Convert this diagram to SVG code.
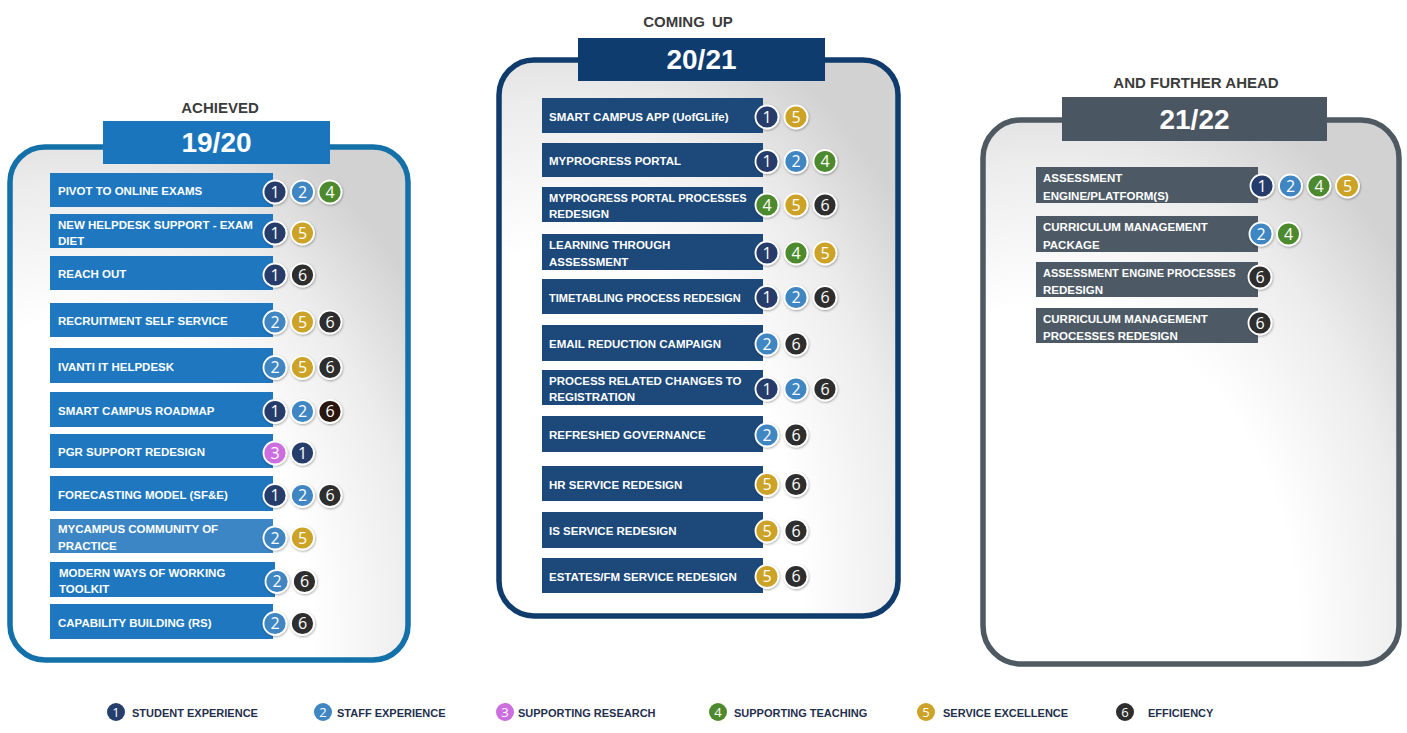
<svg xmlns="http://www.w3.org/2000/svg" width="1407" height="733" viewBox="0 0 1407 733">
  <defs>
    <radialGradient id="panelFill" cx="0.15" cy="0.95" r="1.1">
      <stop offset="0" stop-color="#ffffff"/>
      <stop offset="0.55" stop-color="#ffffff"/>
      <stop offset="0.8" stop-color="#ececec"/>
      <stop offset="1" stop-color="#d2d2d2"/>
    </radialGradient>
    <filter id="shadow" x="-30%" y="-30%" width="160%" height="160%">
      <feDropShadow dx="0.6" dy="1" stdDeviation="1" flood-color="#000" flood-opacity="0.35"/>
    </filter>
    <style>
      .panel { fill: url(#panelFill); stroke-width: 5.5; }
      .p1 { stroke: #1470a8; }
      .p2 { stroke: #0f3c6d; }
      .p3 { stroke: #4e5961; }
      .cap { font-family: "Liberation Sans", Arial, sans-serif; font-weight: bold; font-size: 15px; fill: #3c3c3c; text-anchor: middle; }
      .yr { font-family: "Liberation Sans", Arial, sans-serif; font-weight: bold; font-size: 28px; fill: #ffffff; text-anchor: middle; }
      .lbl { font-family: "Liberation Sans", Arial, sans-serif; font-weight: bold; font-size: 11.5px; fill: #ffffff; }
      .tight { font-size: 11px; }
      .barA { fill: #1e77bf; }
      .barA2 { fill: #3c86c6; }
      .barB { fill: #1c487a; }
      .barC { fill: #4d5a66; }
      .badge { stroke: #ffffff; stroke-width: 1.8; filter: url(#shadow); }
      .num { font-family: "Open Sans", "Liberation Sans", sans-serif; font-size: 16px; fill: #ffffff; text-anchor: middle; }
      .lnum { font-family: "Open Sans", "Liberation Sans", sans-serif; font-size: 13px; fill: #ffffff; text-anchor: middle; }
      .c1 { fill: #263e6c; }
      .c2 { fill: #3f86c3; }
      .c3 { fill: #cc6ee0; }
      .c4 { fill: #4e8a2d; }
      .c5 { fill: #cca326; }
      .c6 { fill: #2e2e2e; }
      .c6b { fill: #2b1711; }
      .leg { font-family: "Liberation Sans", Arial, sans-serif; font-weight: bold; font-size: 11px; fill: #1f2f4d; }
    </style>
  </defs>

  <rect width="1407" height="733" fill="#ffffff"/>

  <!-- 19/20 column -->
  <g id="panel-achieved">
    <rect class="panel p1" x="10" y="147" width="398" height="513" rx="35"/>
    <text class="cap" x="220" y="113">ACHIEVED</text>
    <rect x="103" y="121" width="227" height="43" fill="#1b75bc"/>
    <text class="yr" x="216.5" y="152">19/20</text>
  </g>

  <g id="a1">
    <rect class="barA" x="50" y="173" width="223" height="34"/>
    <text class="lbl" x="58" y="195">PIVOT TO ONLINE EXAMS</text>
    <circle class="badge c1" cx="275" cy="192" r="11.5"/><text class="num" x="275" y="197.7">1</text>
    <circle class="badge c2" cx="302.5" cy="192" r="11.5"/><text class="num" x="302.5" y="197.7">2</text>
    <circle class="badge c4" cx="330" cy="192" r="11.5"/><text class="num" x="330" y="197.7">4</text>
  </g>
  <g id="a2">
    <rect class="barA" x="50" y="214" width="223" height="34"/>
    <text class="lbl" x="58" y="228.5">NEW HELPDESK SUPPORT - EXAM</text>
    <text class="lbl" x="58" y="245">DIET</text>
    <circle class="badge c1" cx="275" cy="233" r="11.5"/><text class="num" x="275" y="238.7">1</text>
    <circle class="badge c5" cx="302.5" cy="233" r="11.5"/><text class="num" x="302.5" y="238.7">5</text>
  </g>
  <g id="a3">
    <rect class="barA" x="50" y="256" width="223" height="34"/>
    <text class="lbl" x="58" y="278">REACH OUT</text>
    <circle class="badge c1" cx="275" cy="275" r="11.5"/><text class="num" x="275" y="280.7">1</text>
    <circle class="badge c6" cx="302.5" cy="275" r="11.5"/><text class="num" x="302.5" y="280.7">6</text>
  </g>
  <g id="a4">
    <rect class="barA" x="50" y="303" width="223" height="34"/>
    <text class="lbl" x="58" y="325">RECRUITMENT  SELF SERVICE</text>
    <circle class="badge c2" cx="275" cy="322" r="11.5"/><text class="num" x="275" y="327.7">2</text>
    <circle class="badge c5" cx="302.5" cy="322" r="11.5"/><text class="num" x="302.5" y="327.7">5</text>
    <circle class="badge c6" cx="330" cy="322" r="11.5"/><text class="num" x="330" y="327.7">6</text>
  </g>
  <g id="a5">
    <rect class="barA" x="50" y="348" width="223" height="35"/>
    <text class="lbl" x="58" y="370.5">IVANTI  IT HELPDESK</text>
    <circle class="badge c2" cx="275" cy="367.5" r="11.5"/><text class="num" x="275" y="373.2">2</text>
    <circle class="badge c5" cx="302.5" cy="367.5" r="11.5"/><text class="num" x="302.5" y="373.2">5</text>
    <circle class="badge c6" cx="330" cy="367.5" r="11.5"/><text class="num" x="330" y="373.2">6</text>
  </g>
  <g id="a6">
    <rect class="barA" x="50" y="392" width="223" height="35"/>
    <text class="lbl" x="58" y="414.5">SMART CAMPUS ROADMAP</text>
    <circle class="badge c1" cx="275" cy="411.5" r="11.5"/><text class="num" x="275" y="417.2">1</text>
    <circle class="badge c2" cx="302.5" cy="411.5" r="11.5"/><text class="num" x="302.5" y="417.2">2</text>
    <circle class="badge c6b" cx="330" cy="411.5" r="11.5"/><text class="num" x="330" y="417.2">6</text>
  </g>
  <g id="a7">
    <rect class="barA" x="50" y="434" width="223" height="34"/>
    <text class="lbl" x="58" y="456">PGR SUPPORT REDESIGN</text>
    <circle class="badge c3" cx="275" cy="453" r="11.5"/><text class="num" x="275" y="458.7">3</text>
    <circle class="badge c1" cx="302.5" cy="453" r="11.5"/><text class="num" x="302.5" y="458.7">1</text>
  </g>
  <g id="a8">
    <rect class="barA" x="50" y="476" width="223" height="35"/>
    <text class="lbl" x="58" y="498.5">FORECASTING MODEL (SF&amp;E)</text>
    <circle class="badge c1" cx="275" cy="495.5" r="11.5"/><text class="num" x="275" y="501.2">1</text>
    <circle class="badge c2" cx="302.5" cy="495.5" r="11.5"/><text class="num" x="302.5" y="501.2">2</text>
    <circle class="badge c6" cx="330" cy="495.5" r="11.5"/><text class="num" x="330" y="501.2">6</text>
  </g>
  <g id="a9">
    <rect class="barA2" x="50" y="519" width="223" height="34"/>
    <text class="lbl" x="58" y="533">MYCAMPUS COMMUNITY OF</text>
    <text class="lbl" x="58" y="550">PRACTICE</text>
    <circle class="badge c2" cx="275" cy="538" r="11.5"/><text class="num" x="275" y="543.7">2</text>
    <circle class="badge c5" cx="302.5" cy="538" r="11.5"/><text class="num" x="302.5" y="543.7">5</text>
  </g>
  <g id="a10">
    <rect class="barA" x="50" y="562" width="225" height="35"/>
    <text class="lbl" x="59" y="576.5">MODERN WAYS OF WORKING</text>
    <text class="lbl" x="59" y="593">TOOLKIT</text>
    <circle class="badge c2" cx="277" cy="581.5" r="11.5"/><text class="num" x="277" y="587.2">2</text>
    <circle class="badge c6" cx="304.5" cy="581.5" r="11.5"/><text class="num" x="304.5" y="587.2">6</text>
  </g>
  <g id="a11">
    <rect class="barA" x="50" y="604" width="223" height="35"/>
    <text class="lbl" x="58" y="626.5">CAPABILITY BUILDING (RS)</text>
    <circle class="badge c2" cx="275" cy="623.5" r="11.5"/><text class="num" x="275" y="629.2">2</text>
    <circle class="badge c6" cx="302.5" cy="623.5" r="11.5"/><text class="num" x="302.5" y="629.2">6</text>
  </g>

  <!-- 20/21 column -->
  <g id="panel-coming-up">
    <rect class="panel p2" x="499" y="60" width="399" height="556" rx="35"/>
    <text class="cap" x="688" y="27" word-spacing="3">COMING UP</text>
    <rect x="578" y="38" width="247" height="43" fill="#0f3c6e"/>
    <text class="yr" x="701.5" y="69">20/21</text>
  </g>

  <g id="b1">
    <rect class="barB" x="542" y="98" width="221" height="35"/>
    <text class="lbl" x="549" y="120.5">SMART CAMPUS APP (UofGLife)</text>
    <circle class="badge c1" cx="767" cy="117" r="11.5"/><text class="num" x="767" y="122.7">1</text>
    <circle class="badge c5" cx="796" cy="117" r="11.5"/><text class="num" x="796" y="122.7">5</text>
  </g>
  <g id="b2">
    <rect class="barB" x="542" y="143" width="221" height="34"/>
    <text class="lbl" x="549" y="165">MYPROGRESS PORTAL</text>
    <circle class="badge c1" cx="767" cy="161.5" r="11.5"/><text class="num" x="767" y="167.2">1</text>
    <circle class="badge c2" cx="796" cy="161.5" r="11.5"/><text class="num" x="796" y="167.2">2</text>
    <circle class="badge c4" cx="825" cy="161.5" r="11.5"/><text class="num" x="825" y="167.2">4</text>
  </g>
  <g id="b3">
    <rect class="barB" x="542" y="187" width="221" height="35"/>
    <text class="lbl tight" x="549" y="201.5">MYPROGRESS PORTAL PROCESSES</text>
    <text class="lbl" x="549" y="218">REDESIGN</text>
    <circle class="badge c4" cx="767" cy="205" r="11.5"/><text class="num" x="767" y="210.7">4</text>
    <circle class="badge c5" cx="796" cy="205" r="11.5"/><text class="num" x="796" y="210.7">5</text>
    <circle class="badge c6" cx="825" cy="205" r="11.5"/><text class="num" x="825" y="210.7">6</text>
  </g>
  <g id="b4">
    <rect class="barB" x="542" y="234" width="221" height="36"/>
    <text class="lbl" x="549" y="248.5">LEARNING THROUGH</text>
    <text class="lbl" x="549" y="265.5">ASSESSMENT</text>
    <circle class="badge c1" cx="767" cy="253" r="11.5"/><text class="num" x="767" y="258.7">1</text>
    <circle class="badge c4" cx="796" cy="253" r="11.5"/><text class="num" x="796" y="258.7">4</text>
    <circle class="badge c5" cx="825" cy="253" r="11.5"/><text class="num" x="825" y="258.7">5</text>
  </g>
  <g id="b5">
    <rect class="barB" x="542" y="279" width="221" height="35"/>
    <text class="lbl tight" x="549" y="301.5">TIMETABLING PROCESS REDESIGN</text>
    <circle class="badge c1" cx="767" cy="297.5" r="11.5"/><text class="num" x="767" y="303.2">1</text>
    <circle class="badge c2" cx="796" cy="297.5" r="11.5"/><text class="num" x="796" y="303.2">2</text>
    <circle class="badge c6" cx="825" cy="297.5" r="11.5"/><text class="num" x="825" y="303.2">6</text>
  </g>
  <g id="b6">
    <rect class="barB" x="542" y="325" width="221" height="36"/>
    <text class="lbl" x="549" y="348">EMAIL REDUCTION CAMPAIGN</text>
    <circle class="badge c2" cx="767" cy="344" r="11.5"/><text class="num" x="767" y="349.7">2</text>
    <circle class="badge c6" cx="796" cy="344" r="11.5"/><text class="num" x="796" y="349.7">6</text>
  </g>
  <g id="b7">
    <rect class="barB" x="542" y="370" width="221" height="35"/>
    <text class="lbl" x="549" y="384.5">PROCESS RELATED CHANGES TO</text>
    <text class="lbl" x="549" y="401">REGISTRATION</text>
    <circle class="badge c1" cx="767" cy="389" r="11.5"/><text class="num" x="767" y="394.7">1</text>
    <circle class="badge c2" cx="796" cy="389" r="11.5"/><text class="num" x="796" y="394.7">2</text>
    <circle class="badge c6" cx="825" cy="389" r="11.5"/><text class="num" x="825" y="394.7">6</text>
  </g>
  <g id="b8">
    <rect class="barB" x="542" y="416" width="221" height="36"/>
    <text class="lbl" x="549" y="439">REFRESHED GOVERNANCE</text>
    <circle class="badge c2" cx="767" cy="435" r="11.5"/><text class="num" x="767" y="440.7">2</text>
    <circle class="badge c6" cx="796" cy="435" r="11.5"/><text class="num" x="796" y="440.7">6</text>
  </g>
  <g id="b9">
    <rect class="barB" x="542" y="466" width="221" height="35"/>
    <text class="lbl" x="549" y="488.5">HR SERVICE REDESIGN</text>
    <circle class="badge c5" cx="767" cy="484.5" r="11.5"/><text class="num" x="767" y="490.2">5</text>
    <circle class="badge c6" cx="796" cy="484.5" r="11.5"/><text class="num" x="796" y="490.2">6</text>
  </g>
  <g id="b10">
    <rect class="barB" x="542" y="512" width="221" height="36"/>
    <text class="lbl" x="549" y="535">IS SERVICE REDESIGN</text>
    <circle class="badge c5" cx="767" cy="531" r="11.5"/><text class="num" x="767" y="536.7">5</text>
    <circle class="badge c6" cx="796" cy="531" r="11.5"/><text class="num" x="796" y="536.7">6</text>
  </g>
  <g id="b11">
    <rect class="barB" x="542" y="558" width="221" height="35"/>
    <text class="lbl" x="549" y="580.5">ESTATES/FM SERVICE REDESIGN</text>
    <circle class="badge c5" cx="767" cy="576.5" r="11.5"/><text class="num" x="767" y="582.2">5</text>
    <circle class="badge c6" cx="796" cy="576.5" r="11.5"/><text class="num" x="796" y="582.2">6</text>
  </g>

  <!-- 21/22 column -->
  <g id="panel-further-ahead">
    <rect class="panel p3" x="983" y="120" width="416" height="544" rx="38"/>
    <text class="cap" x="1196" y="88">AND FURTHER AHEAD</text>
    <rect x="1062" y="97" width="265" height="44" fill="#4a5661"/>
    <text class="yr" x="1194.5" y="128.5">21/22</text>
  </g>

  <g id="c1">
    <rect class="barC" x="1036" y="167" width="222" height="36"/>
    <text class="lbl" x="1043" y="182">ASSESSMENT</text>
    <text class="lbl" x="1043" y="199.5">ENGINE/PLATFORM(S)</text>
    <circle class="badge c1" cx="1262" cy="186" r="11.5"/><text class="num" x="1262" y="191.7">1</text>
    <circle class="badge c2" cx="1290.5" cy="186" r="11.5"/><text class="num" x="1290.5" y="191.7">2</text>
    <circle class="badge c4" cx="1319" cy="186" r="11.5"/><text class="num" x="1319" y="191.7">4</text>
    <circle class="badge c5" cx="1347.5" cy="186" r="11.5"/><text class="num" x="1347.5" y="191.7">5</text>
  </g>
  <g id="c2">
    <rect class="barC" x="1036" y="216" width="222" height="36"/>
    <text class="lbl" x="1043" y="231">CURRICULUM MANAGEMENT</text>
    <text class="lbl" x="1043" y="248.5">PACKAGE</text>
    <circle class="badge c2" cx="1261" cy="234" r="11.5"/><text class="num" x="1261" y="239.7">2</text>
    <circle class="badge c4" cx="1288.5" cy="234" r="11.5"/><text class="num" x="1288.5" y="239.7">4</text>
  </g>
  <g id="c3">
    <rect class="barC" x="1036" y="262" width="222" height="35"/>
    <text class="lbl tight" x="1043" y="276.5">ASSESSMENT ENGINE PROCESSES</text>
    <text class="lbl" x="1043" y="293.5">REDESIGN</text>
    <circle class="badge c6" cx="1260" cy="277" r="11.5"/><text class="num" x="1260" y="282.7">6</text>
  </g>
  <g id="c4">
    <rect class="barC" x="1036" y="308" width="222" height="35"/>
    <text class="lbl" x="1043" y="322.5">CURRICULUM MANAGEMENT</text>
    <text class="lbl" x="1043" y="339.5">PROCESSES REDESIGN</text>
    <circle class="badge c6" cx="1260" cy="323" r="11.5"/><text class="num" x="1260" y="328.7">6</text>
  </g>

  <!-- key to the numbered badges -->
  <g id="legend">
    <circle class="c1" cx="116" cy="712" r="9"/><text class="lnum" x="116" y="716.6">1</text>
    <text class="leg" x="132" y="716.5">STUDENT EXPERIENCE</text>
    <circle class="c2" cx="323" cy="712" r="9"/><text class="lnum" x="323" y="716.6">2</text>
    <text class="leg" x="337" y="716.5">STAFF EXPERIENCE</text>
    <circle class="c3" cx="505" cy="712" r="9"/><text class="lnum" x="505" y="716.6">3</text>
    <text class="leg" x="518" y="716.5">SUPPORTING RESEARCH</text>
    <circle class="c4" cx="718" cy="712" r="9"/><text class="lnum" x="718" y="716.6">4</text>
    <text class="leg" x="734" y="716.5">SUPPORTING TEACHING</text>
    <circle class="c5" cx="926" cy="712" r="9"/><text class="lnum" x="926" y="716.6">5</text>
    <text class="leg" x="943" y="716.5">SERVICE EXCELLENCE</text>
    <circle class="c6" cx="1125" cy="712" r="9"/><text class="lnum" x="1125" y="716.6">6</text>
    <text class="leg" x="1148" y="716.5">EFFICIENCY</text>
  </g>
</svg>
